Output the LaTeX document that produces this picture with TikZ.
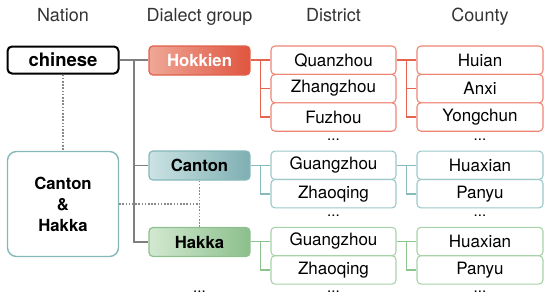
\documentclass[tikz,border=0pt]{standalone}
\usepackage{fontspec}
\setmainfont{TeX Gyre Heros}
\usetikzlibrary{calc}
\definecolor{hdr}{HTML}{333333}
\definecolor{gline}{HTML}{7F7F7F}
\definecolor{dotc}{HTML}{8A8A8A}
\definecolor{redB}{HTML}{E0604A}
\definecolor{redL}{HTML}{F0A797}
\definecolor{redD}{HTML}{DF553F}
\definecolor{redE}{HTML}{EE8574}
\definecolor{redC}{HTML}{E6644E}
\definecolor{tealB}{HTML}{86B8BA}
\definecolor{tealL}{HTML}{CBE3E3}
\definecolor{tealD}{HTML}{7EAFB2}
\definecolor{tealE}{HTML}{9CC8CA}
\definecolor{tealC}{HTML}{86BABC}
\definecolor{grnB}{HTML}{8DC08E}
\definecolor{grnL}{HTML}{D2E9D1}
\definecolor{grnD}{HTML}{8CBF8C}
\definecolor{grnE}{HTML}{A8D3A8}
\definecolor{grnC}{HTML}{8CC48D}
\tikzset{
  x=1pt, y=-1pt,
  hdrtxt/.style={text=hdr, font=\fontsize{18}{20}\selectfont, inner sep=0pt},
  dgrp/.style={rounded corners=4pt, minimum width=101pt, minimum height=29pt, inner sep=0pt, line width=1.2pt, font=\bfseries\fontsize{16.7}{19}\selectfont},
  cell/.style={rounded corners=4pt, minimum width=125pt, minimum height=28.4pt, inner sep=0pt, line width=1.1pt, fill=white, font=\fontsize{17}{19}\selectfont},
  ccell/.style={cell, minimum width=126pt},
  dotsn/.style={font=\fontsize{15}{17}\selectfont, inner sep=0pt},
  conn/.style={line width=1.6pt},
  dotl/.style={line width=1.8pt, dotc, dash pattern=on 1.6pt off 1.6pt},
}
\begin{document}
\begin{tikzpicture}
\useasboundingbox (0,0) rectangle (550,303);
% headers
\node[hdrtxt, anchor=base] (hN) at (63,21) {Nation};
\node[hdrtxt, anchor=base] (hD) at (199.5,21) {Dialect group};
\node[hdrtxt, anchor=base] (hDi) at (333.5,21) {District};
\node[hdrtxt, anchor=base] (hC) at (480,21) {County};
% nation
\node[draw=black, line width=2pt, rounded corners=4.5pt, minimum width=111pt, minimum height=27pt, inner sep=0pt, font=\bfseries\fontsize{18.5}{20}\selectfont, fill=white] (chn) at (63,60) {chinese};
\node[draw=tealB, line width=1.4pt, rounded corners=9pt, minimum width=111pt, minimum height=105pt, inner sep=0pt, align=center, font=\bfseries\fontsize{16.7}{21}\selectfont, fill=white] (ch) at (63,204) {Canton\\[0pt]\&\\[0pt]Hakka};
% dialect groups
\node[dgrp, draw=redB, left color=redL, right color=redD, text=white] (hok) at (199.5,60.5) {Hokkien};
\node[dgrp, draw=tealB, left color=tealL, right color=tealD] (can) at (199.5,165.5) {Canton};
\node[dgrp, draw=grnB, left color=grnL, right color=grnD] (hak) at (199.5,242) {Hakka};
% districts & counties - Hokkien
\node[cell, draw=redE] (d1) at (333.5,60.2) {Quanzhou};
\node[cell, draw=redE] (d2) at (333.5,88.6) {Zhangzhou};
\node[cell, draw=redE] (d3) at (333.5,117) {Fuzhou};
\node[ccell, draw=redE] (c1) at (480,60.2) {Huian};
\node[ccell, draw=redE] (c2) at (480,88.6) {Anxi};
\node[ccell, draw=redE] (c3) at (480,117) {Yongchun};
\node[dotsn] (dd1) at (333.5,140) {...};
\node[dotsn] (cd1) at (480,140) {...};
% Canton
\node[cell, draw=tealE] (d4) at (333.5,165.3) {Guangzhou};
\node[cell, draw=tealE] (d5) at (333.5,193.7) {Zhaoqing};
\node[ccell, draw=tealE] (c4) at (480,165.3) {Huaxian};
\node[ccell, draw=tealE] (c5) at (480,193.7) {Panyu};
\node[dotsn] (dd2) at (333.5,216) {...};
\node[dotsn] (cd2) at (480,216) {...};
% Hakka
\node[cell, draw=grnE] (d6) at (333.5,241.5) {Guangzhou};
\node[cell, draw=grnE] (d7) at (333.5,269.9) {Zhaoqing};
\node[ccell, draw=grnE] (c6) at (480,241.5) {Huaxian};
\node[ccell, draw=grnE] (c7) at (480,269.9) {Panyu};
\node[dotsn] (dd3) at (333.5,292) {...};
\node[dotsn] (cd3) at (480,292) {...};
\node[dotsn] (gd) at (199.5,292) {...};
% gray trunk
\coordinate (t) at (134,60);
\begin{scope}[on background layer/.style={}]
\draw[conn, gline] (chn.east) -- (hok.west |- chn.east);
\draw[conn, gline] (t) |- (hak.west);
\draw[conn, gline] (t |- can.west) -- (can.west);
\end{scope}
% dotted
\draw[dotl] (chn.south) -- (ch.north);
\draw[dotl] (ch.east) -- (ch.east -| can.south);
\draw[dotl] (can.south) -- (hak.north);
% red connectors
\coordinate (rb) at ($(hok.east)!0.5!(d1.west)$);
\draw[conn, redC] (hok.east |- d1.west) -- (d1.west);
\draw[conn, redC] (rb |- d1.west) |- (d3.west);
\draw[conn, redC] (rb |- d2.west) -- (d2.west);
\coordinate (rc) at ($(d1.east)!0.5!(c1.west)$);
\draw[conn, redC] (d1.east) -- (c1.west);
\draw[conn, redC] (rc |- d1.east) |- (c3.west);
\draw[conn, redC] (rc |- c2.west) -- (c2.west);
% teal connectors
\draw[conn, tealC] (can.east |- d4.west) -- (d4.west);
\draw[conn, tealC] (rb |- d4.west) |- (d5.west);
\draw[conn, tealC] (d4.east) -- (c4.west);
\draw[conn, tealC] (rc |- d4.east) |- (c5.west);
% green connectors
\draw[conn, grnC] (hak.east |- d6.west) -- (d6.west);
\draw[conn, grnC] (rb |- d6.west) |- (d7.west);
\draw[conn, grnC] (d6.east) -- (c6.west);
\draw[conn, grnC] (rc |- d6.east) |- (c7.west);
\end{tikzpicture}
\end{document}
